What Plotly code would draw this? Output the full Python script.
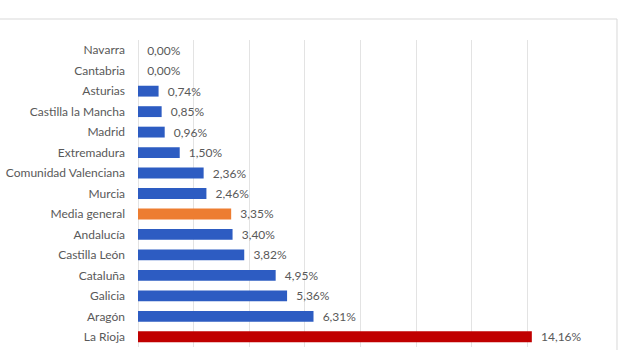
import plotly.graph_objects as go

regions = ["Navarra", "Cantabria", "Asturias", "Castilla la Mancha", "Madrid",
           "Extremadura", "Comunidad Valenciana", "Murcia", "Media general",
           "Andalucía", "Castilla León", "Cataluña", "Galicia", "Aragón", "La Rioja"]
values = [0.00, 0.00, 0.74, 0.85, 0.96, 1.50, 2.36, 2.46, 3.35, 3.40, 3.82,
          4.95, 5.36, 6.31, 14.16]

BLUE = "#2d5cc2"
ORANGE = "#ed7d31"
RED = "#c00000"

colors = []
for r in regions:
    if r == "Media general":
        colors.append(ORANGE)
    elif r == "La Rioja":
        colors.append(RED)
    else:
        colors.append(BLUE)

labels = ["  " + f"{v:.2f}".replace(".", ",") + "%" for v in values]

fig = go.Figure(go.Bar(
    x=values, y=regions, orientation="h",
    marker=dict(color=colors, line=dict(width=0)),
    text=labels, textposition="outside", cliponaxis=False,
    constraintext="none",
    textfont=dict(family="Lato", size=12, color="#595959"),
    hoverinfo="skip",
))

fig.update_layout(
    width=620, height=350,
    margin=dict(l=138, r=37, t=40, b=3),
    paper_bgcolor="white", plot_bgcolor="white",
    bargap=0.47,
    showlegend=False,
    font=dict(family="Lato", size=12, color="#595959"),
    uniformtext=dict(mode=False),
    xaxis=dict(range=[0, 16], dtick=2, showticklabels=False,
               showgrid=True, gridcolor="#e3e3e3", gridwidth=1,
               zeroline=True, zerolinecolor="#e3e3e3", zerolinewidth=1,
               fixedrange=True),
    yaxis=dict(autorange="reversed", showgrid=False, ticks="",
               ticklabelstandoff=12,
               tickfont=dict(family="Lato", size=12, color="#595959"),
               fixedrange=True),
    shapes=[dict(type="rect", xref="paper", yref="paper",
                 x0=-0.312, x1=1.0764, y0=-0.1, y1=1.0684,
                 line=dict(color="#d9d9d9", width=1), fillcolor="rgba(0,0,0,0)",
                 layer="below")],
)

fig.write_html("out.html")
